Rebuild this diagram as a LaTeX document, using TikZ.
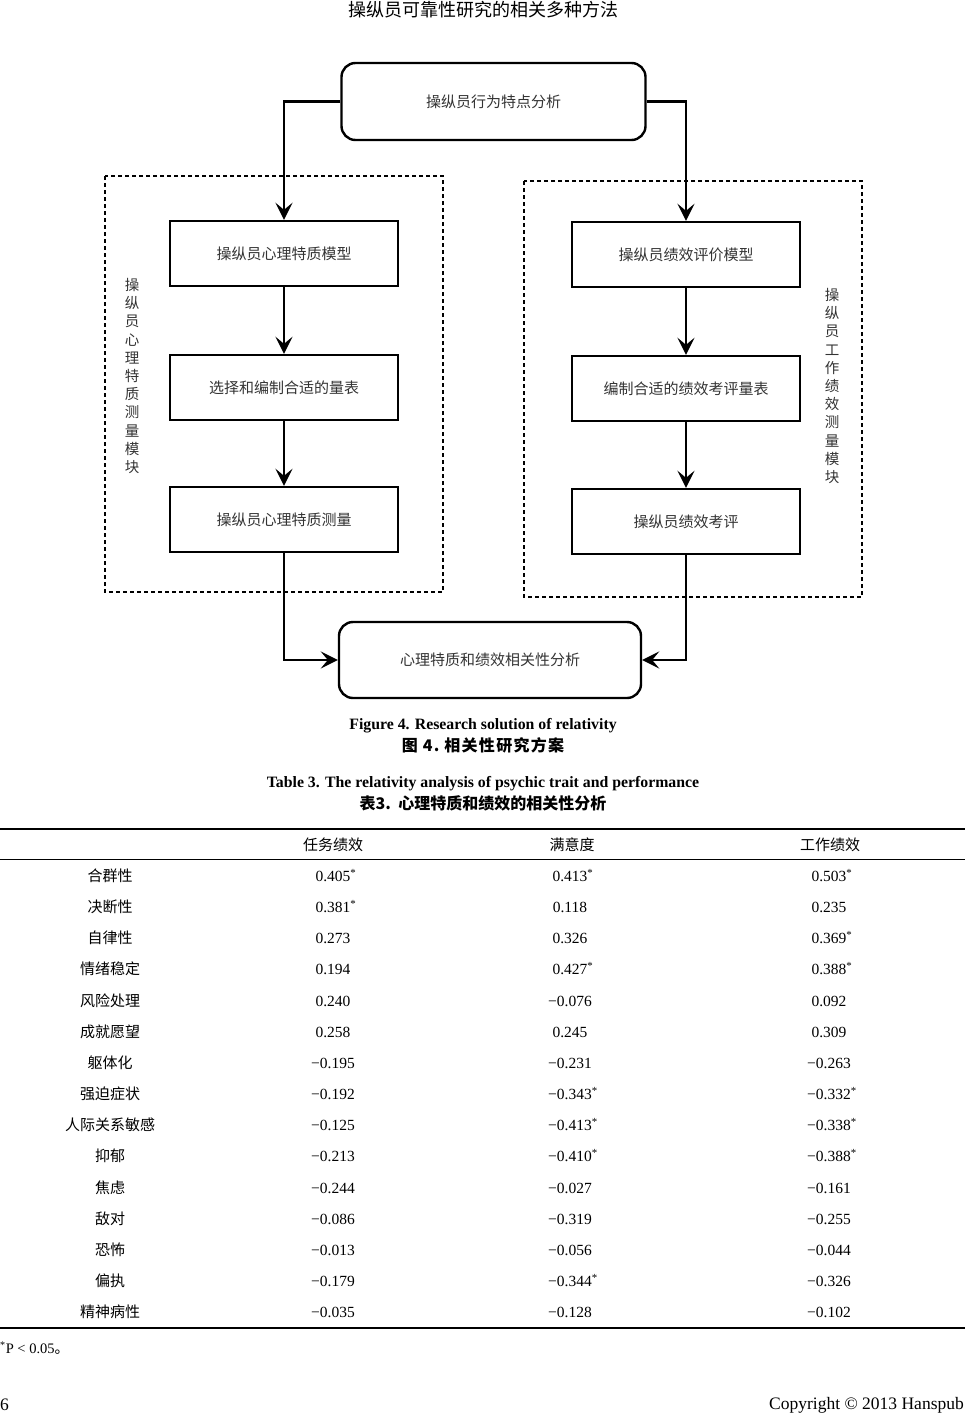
\documentclass[tikz,border=0pt]{standalone}
\usepackage{fontspec}
\setmainfont{Liberation Serif}
\newfontfamily\cjk{Noto Sans CJK SC}
\newfontfamily\cjkls[LetterSpace=8]{Noto Sans CJK SC}
\usetikzlibrary{arrows.meta}
\newcommand\sig{\rlap{\textsuperscript{*}}}
\tikzset{
  every node/.style={inner sep=0pt},
  flowbox/.style={draw, line width=2.4pt, minimum width=228pt, minimum height=65pt,
    font=\cjk\fontsize{15}{17}\selectfont, text=black!80},
  roundbox/.style={flowbox, rounded corners=14pt, minimum width=304pt, minimum height=77pt},
  arr/.style={line width=2.3pt, -{Stealth[length=17pt,width=17pt,inset=7pt]}},
  dashbox/.style={line width=1.2pt, dash pattern=on 4pt off 3pt},
  vlabel/.style={align=center, font=\cjk\fontsize{14.5}{18.2}\selectfont, text=black!80},
  cn/.style={font=\cjk\fontsize{15}{17}\selectfont, text height=11pt, text depth=3pt},
  num/.style={font=\fontsize{15.5}{17}\selectfont, text height=11pt, text depth=3pt},
  captext/.style={font=\bfseries\fontsize{15.8}{17}\selectfont},
  cncap/.style={font=\cjk\bfseries\fontsize{16}{18}\selectfont},
}
\begin{document}
\begin{tikzpicture}[x=1pt,y=-1pt]
\useasboundingbox (0,0) rectangle (965,1414);
% header
\node[font=\cjk\fontsize{18}{20}\selectfont] (hdr) at (483,10) {操纵员可靠性研究的相关多种方法};
% dashed modules
\draw[dashbox] (105,176) rectangle (443,592);
\draw[dashbox] (524,181) rectangle (862,597);
\node[vlabel] (vl) at (132,376) {操\\纵\\员\\心\\理\\特\\质\\测\\量\\模\\块};
\node[vlabel] (vr) at (832,386) {操\\纵\\员\\工\\作\\绩\\效\\测\\量\\模\\块};
% boxes
\node[roundbox] (t) at (493.5,101.5) {操纵员行为特点分析};
\node[flowbox] (l1) at (284,253.5) {操纵员心理特质模型};
\node[flowbox] (l2) at (284,387.5) {选择和编制合适的量表};
\node[flowbox] (l3) at (284,519.5) {操纵员心理特质测量};
\node[flowbox] (r1) at (686,254.5) {操纵员绩效评价模型};
\node[flowbox] (r2) at (686,388.5) {编制合适的绩效考评量表};
\node[flowbox] (r3) at (686,521.5) {操纵员绩效考评};
\node[roundbox, minimum width=302pt, minimum height=76pt] (b) at (490,660) {心理特质和绩效相关性分析};
% connectors
\draw[arr] (t.west) -| (l1.north);
\draw[arr] (t.east) -| (r1.north);
\draw[arr] (l1) -- (l2);
\draw[arr] (l2) -- (l3);
\draw[arr] (r1) -- (r2);
\draw[arr] (r2) -- (r3);
\draw[arr] (l3.south) |- (b.west);
\draw[arr] (r3.south) |- (b.east);
% captions
\node[captext] (fc) at (483,726) {Figure 4. Research solution of relativity};
\node[cncap] (fcc) at (483,745) {\cjkls 图 4.~相关性研究方案};
\node[captext] (tc) at (483,784) {Table 3. The relativity analysis of psychic trait and performance};
\node[cncap] (tcc) at (483,803) {表3.~~心理特质和绩效的相关性分析};
% table
\draw[line width=1.2pt] (0,829) coordinate (tl1) -- (965,829) coordinate (tr1);
\draw[line width=0.8pt] (0,859) coordinate (tl2) -- (965,859) coordinate (tr2);
\draw[line width=1.2pt] (0,1328) coordinate (tl3) -- (965,1328) coordinate (tr3);
\node[cn] (h1) at (333,846) {任务绩效};
\node[cn] (h2) at (572,846) {满意度};
\node[cn] (h3) at (830,846) {工作绩效};
\foreach \lab/\a/\b/\c [count=\i] in {
  合群性/0.405\sig/0.413\sig/0.503\sig,
  决断性/0.381\sig/0.118/0.235,
  自律性/0.273/0.326/0.369\sig,
  情绪稳定/0.194/0.427\sig/0.388\sig,
  风险处理/0.240/−0.076/0.092,
  成就愿望/0.258/0.245/0.309,
  躯体化/−0.195/−0.231/−0.263,
  强迫症状/−0.192/−0.343\sig/−0.332\sig,
  人际关系敏感/−0.125/−0.413\sig/−0.338\sig,
  抑郁/−0.213/−0.410\sig/−0.388\sig,
  焦虑/−0.244/−0.027/−0.161,
  敌对/−0.086/−0.319/−0.255,
  恐怖/−0.013/−0.056/−0.044,
  偏执/−0.179/−0.344\sig/−0.326,
  精神病性/−0.035/−0.128/−0.102}{
  \pgfmathsetmacro\yy{877.5+(\i-1)*31.15}
  \node[cn] (row\i) at (110,\yy) {\lab};
  \node[num] (a\i) at (333,\yy) {\a};
  \node[num] (b\i) at (570,\yy) {\b};
  \node[num] (c\i) at (829,\yy) {\c};
}
\node[anchor=west, font=\fontsize{14.5}{16}\selectfont] (fn) at (0,1348) {\textsuperscript{*}P < 0.05\cjk 。};
% footer
\node[anchor=west, font=\fontsize{17.5}{19}\selectfont] (pg) at (0,1405) {6};
\node[anchor=east, font=\fontsize{17.5}{19}\selectfont] (cr) at (964,1405) {Copyright © 2013 Hanspub};
\end{tikzpicture}
\end{document}
